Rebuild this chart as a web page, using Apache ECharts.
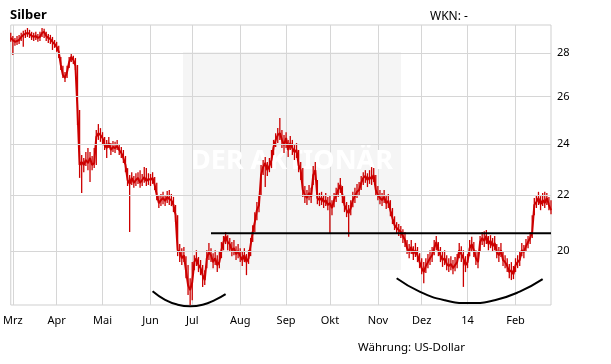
<!DOCTYPE html>
<html><head><meta charset="utf-8">
<script src="https://cdn.jsdelivr.net/npm/echarts@6/dist/echarts.min.js"></script>
<style>html,body{margin:0;padding:0;background:#fff}#c{width:611px;height:364px}</style>
</head><body><div id="c"></div>
<script>
// Month label positions (trading-day index) and texts
const monthIdx = [1, 22, 44, 67, 87, 110, 132, 153, 176, 197, 219, 242];
const monthLbl = ['Mrz', 'Apr', 'Mai', 'Jun', 'Jul', 'Aug', 'Sep', 'Okt', 'Nov', 'Dez', '14', 'Feb'];
const yTicks = [20, 22, 24, 26, 28];

// Daily closes (US-Dollar)
const close = [
28.73,28.63,28.54,28.58,28.63,28.78,28.88,28.93,28.98,28.93,
28.83,28.78,28.83,28.73,28.78,28.98,29.03,28.83,28.73,28.68,
28.54,28.44,28.30,28.06,27.44,26.98,26.84,27.12,27.58,27.82,
27.68,27.40,25.42,23.15,23.27,23.15,23.35,23.23,23.43,23.15,
23.23,24.28,24.44,24.36,24.24,23.95,23.83,24.03,23.75,23.87,
23.83,23.91,23.75,23.63,23.43,23.15,22.57,22.42,22.65,22.46,
22.57,22.65,22.46,22.57,22.68,22.53,22.61,22.57,22.65,22.38,
22.00,21.70,21.81,21.89,21.78,21.93,21.85,21.81,21.63,21.26,
20.03,19.97,19.76,19.86,19.36,18.88,18.72,18.97,19.63,19.76,
19.53,19.43,19.20,19.04,19.76,19.97,19.86,19.63,19.76,19.53,
19.63,20.03,20.31,20.52,20.31,20.24,20.03,20.10,19.90,20.00,
19.83,19.70,19.86,19.63,19.76,20.21,20.66,21.01,21.44,21.63,
22.76,23.07,23.23,22.95,23.11,23.35,23.87,24.16,24.36,24.44,
24.16,23.95,24.24,23.75,24.03,23.83,23.67,23.75,23.15,22.95,
22.19,22.00,21.89,22.08,21.93,22.76,22.95,21.89,21.81,21.89,
21.74,21.81,21.63,21.70,21.52,21.81,22.00,22.19,22.38,22.00,
21.63,21.44,21.33,21.52,21.81,21.96,22.12,22.19,22.46,22.65,
22.72,22.57,22.68,22.61,22.76,22.19,22.00,21.89,21.81,21.93,
21.70,21.78,21.44,21.15,20.90,20.80,20.73,20.66,20.52,20.38,
20.10,19.97,20.14,19.90,20.03,19.86,19.63,19.43,19.30,19.50,
19.63,19.76,19.86,20.10,20.31,20.03,19.86,19.70,19.76,19.57,
19.50,19.57,19.43,19.53,19.63,20.03,19.90,19.76,19.53,19.63,
20.10,20.24,20.03,19.76,19.63,20.31,20.45,20.35,20.52,20.24,
20.35,20.17,20.28,19.97,19.86,20.03,19.70,19.63,19.50,19.30,
19.36,19.23,19.53,19.63,19.70,20.03,19.97,20.17,20.31,20.45,
20.66,21.63,21.74,21.89,21.66,21.81,21.70,21.89,21.63,21.44
];
// Daily highs
const high = [
28.98,28.83,28.73,28.83,28.88,28.98,29.08,29.13,29.22,29.13,
29.03,28.98,29.03,28.93,29.03,29.22,29.18,29.03,28.93,28.88,
28.78,28.63,28.54,28.35,27.82,27.40,27.12,27.40,27.82,27.96,
27.87,27.77,27.44,25.42,23.55,23.43,23.67,23.83,23.67,23.51,
23.83,24.57,24.82,24.65,24.48,24.28,24.16,24.28,24.03,24.12,
24.08,24.16,23.99,23.87,23.75,23.51,23.03,22.76,22.87,22.72,
22.83,22.87,22.95,22.80,23.07,23.03,22.83,22.80,22.87,22.68,
22.46,22.00,22.04,22.12,22.00,22.15,22.19,22.04,21.93,21.63,
21.26,20.24,20.10,20.14,19.83,19.53,19.10,19.63,19.86,20.03,
19.80,19.70,19.53,19.36,20.03,20.28,20.10,19.93,20.03,19.86,
19.97,20.31,20.52,20.66,20.55,20.45,20.31,20.38,20.17,20.24,
20.10,19.97,20.10,19.90,20.03,20.45,20.90,21.37,21.74,22.00,
23.15,23.35,23.47,23.27,23.43,23.75,24.16,24.44,24.65,25.08,
24.57,24.36,24.48,24.16,24.32,24.16,23.95,24.03,23.75,23.27,
23.03,22.34,22.19,22.38,22.27,23.11,23.27,22.57,22.08,22.12,
22.00,22.08,21.93,21.96,21.81,22.08,22.27,22.46,22.65,22.34,
21.96,21.74,21.63,21.81,22.12,22.27,22.42,22.49,22.72,22.87,
22.95,22.83,22.95,23.07,23.03,22.76,22.34,22.19,22.08,22.19,
21.96,22.04,21.81,21.52,21.22,21.01,20.94,20.87,20.76,20.66,
20.38,20.24,20.38,20.17,20.28,20.14,19.93,19.76,19.63,19.76,
19.90,20.03,20.14,20.38,20.52,20.31,20.14,19.97,20.03,19.86,
19.76,19.83,19.70,19.80,19.90,20.28,20.17,20.03,19.83,19.90,
20.38,20.49,20.31,20.03,19.97,20.52,20.66,20.69,20.73,20.52,
20.55,20.45,20.52,20.24,20.14,20.28,19.97,19.86,19.76,19.57,
19.63,19.50,19.76,19.86,19.97,20.28,20.21,20.42,20.52,20.66,
21.26,21.89,22.00,22.12,21.96,22.08,22.12,22.08,21.93,21.81
];
// Daily lows
const low = [
28.54,27.91,28.35,28.39,28.44,28.58,28.30,28.73,28.78,28.73,
28.63,28.58,28.63,28.54,28.58,28.78,28.73,28.58,28.49,28.44,
28.15,28.25,28.06,27.77,27.21,26.84,26.66,26.84,27.30,27.58,
27.49,27.21,24.78,22.65,22.08,22.87,23.11,22.95,22.49,22.95,
23.03,23.15,24.16,24.08,23.95,23.75,23.43,23.83,23.55,23.67,
23.63,23.75,23.55,23.43,23.23,22.87,22.34,20.66,22.38,22.27,
22.34,22.42,22.27,22.34,22.46,22.34,22.38,22.34,22.42,22.19,
21.81,21.52,21.59,21.66,21.59,21.70,21.63,21.59,21.37,21.01,
19.83,19.63,19.53,19.63,19.10,18.56,18.25,18.40,19.36,19.50,
19.30,19.20,18.82,18.88,19.43,19.70,19.63,19.43,19.53,19.30,
19.43,19.76,20.03,20.24,20.03,19.97,19.83,19.86,19.70,19.76,
19.63,19.50,19.63,19.20,19.57,19.83,20.31,20.66,21.08,21.37,
22.00,22.76,22.30,22.72,22.87,23.03,23.55,23.87,24.03,24.16,
23.83,23.63,23.83,23.47,23.75,23.55,23.35,23.43,22.87,22.57,
21.93,21.70,21.63,21.81,21.70,22.38,22.57,21.66,21.59,21.63,
21.52,21.59,21.44,20.62,21.26,21.55,21.74,21.93,22.08,21.70,
21.37,21.19,20.49,21.26,21.55,21.70,21.89,21.96,22.19,22.38,
22.46,22.30,22.42,22.38,22.49,21.96,21.81,21.66,21.59,21.70,
21.48,21.52,21.22,20.94,20.73,20.59,20.52,20.45,20.28,20.14,
19.90,19.76,19.90,19.70,19.80,19.63,19.43,19.23,18.94,19.27,
19.43,19.53,19.63,19.86,20.03,19.83,19.63,19.47,19.53,19.36,
19.30,19.36,19.23,19.33,19.43,19.76,19.63,18.82,19.30,19.43,
19.83,19.97,19.80,19.53,19.43,19.97,20.21,20.14,20.24,20.03,
20.10,19.97,20.03,19.76,19.63,19.80,19.50,19.43,19.30,19.10,
19.04,19.07,19.30,19.43,19.50,19.83,19.76,19.97,20.10,20.24,
20.45,21.26,21.52,21.63,21.44,21.59,21.52,21.63,21.44,21.29
];

// Annotations (index, price)
const resistance = [[96, 20.62], [259, 20.62]];
const arcLeft = [[68, 18.68], [74, 18.41], [80, 18.26], [86, 18.21], [92, 18.26], [98, 18.41], [103, 18.59]];
const arcRight = [[185, 19.10], [196, 18.67], [208, 18.40], [220, 18.31], [232, 18.40], [244, 18.67], [255, 19.07]];

const FONT = '"Noto Sans", sans-serif';
const RED = '#cc0000';
const cats = close.map((_, i) => String(i));
const hlData = close.map((c, i) => [i, low[i], high[i]]);

const chart = echarts.init(document.getElementById('c'), null, { renderer: 'canvas' });
chart.setOption({
  animation: false,
  backgroundColor: '#fff',
  graphic: [
    { type: 'rect', z: -5, shape: { x: 183, y: 52, width: 218, height: 218 }, style: { fill: '#f5f5f5' }, silent: true },
    { type: 'text', z: 1, x: 292, y: 161, silent: true,
      style: { text: 'DER AKTIONÄR', font: 'bold 27px "Noto Sans"', fill: '#ffffff', align: 'center', verticalAlign: 'middle' } },
    { type: 'text', x: 10, y: 15, style: { text: 'Silber', font: 'bold 13px "Noto Sans"', fill: '#000', verticalAlign: 'middle' } },
    { type: 'text', x: 430, y: 17, style: { text: 'WKN: -', font: '12px "Noto Sans"', fill: '#000', verticalAlign: 'middle' } },
    { type: 'text', x: 358, y: 348, style: { text: 'Währung: US-Dollar', font: '11.5px "Noto Sans"', fill: '#000', verticalAlign: 'middle' } }
  ],
  grid: { left: 10, right: 60, top: 25, bottom: 59, show: true, borderColor: '#cfcfcf', borderWidth: 1, backgroundColor: 'transparent' },
  xAxis: {
    type: 'category', data: cats, boundaryGap: false,
    axisLine: { show: false }, axisTick: { show: false },
    axisLabel: {
      interval: (i) => monthIdx.includes(i),
      formatter: (v, i) => { const k = monthIdx.indexOf(Number(v)); return k >= 0 ? monthLbl[k] : ''; },
      color: '#000', fontFamily: FONT, fontSize: 11, margin: 10
    },
    splitLine: { show: true, interval: (i) => monthIdx.includes(i), lineStyle: { color: '#d6d6d6', width: 1 } }
  },
  yAxis: {
    type: 'log', position: 'right', min: 18.25, max: 29.37,
    axisLine: { show: false }, axisTick: { show: false }, axisLabel: { show: false }, splitLine: { show: false }
  },
  series: [
    {
      type: 'line', data: [], z: 0, silent: true,
      markLine: {
        silent: true, symbol: ['none', 'none'], animation: false,
        lineStyle: { color: '#d6d6d6', width: 1, type: 'solid' },
        label: { show: true, position: 'end', distance: 6, color: '#000', fontFamily: FONT, fontSize: 11,
                 formatter: (p) => String(p.value) },
        emphasis: { disabled: true },
        data: yTicks.map(v => ({ yAxis: v }))
      }
    },
    {
      type: 'custom', data: hlData, z: 3, silent: true,
      encode: { x: 0, y: [1, 2] },
      renderItem: (params, api) => {
        const p1 = api.coord([api.value(0), api.value(1)]);
        const p2 = api.coord([api.value(0), api.value(2)]);
        return { type: 'line', shape: { x1: p1[0], y1: p1[1], x2: p2[0], y2: p2[1] },
                 style: { stroke: RED, lineWidth: 1.3 } };
      }
    },
    {
      type: 'line', data: close, z: 4, symbol: 'none', silent: true,
      lineStyle: { color: RED, width: 2 }
    },
    {
      type: 'line', data: resistance, z: 5, symbol: 'none', silent: true,
      lineStyle: { color: '#000', width: 2 }
    },
    {
      type: 'line', data: arcLeft, z: 5, symbol: 'none', smooth: true, clip: false, silent: true,
      lineStyle: { color: '#000', width: 2 }
    },
    {
      type: 'line', data: arcRight, z: 5, symbol: 'none', smooth: true, clip: false, silent: true,
      lineStyle: { color: '#000', width: 2 }
    }
  ]
});
</script>
</body></html>
